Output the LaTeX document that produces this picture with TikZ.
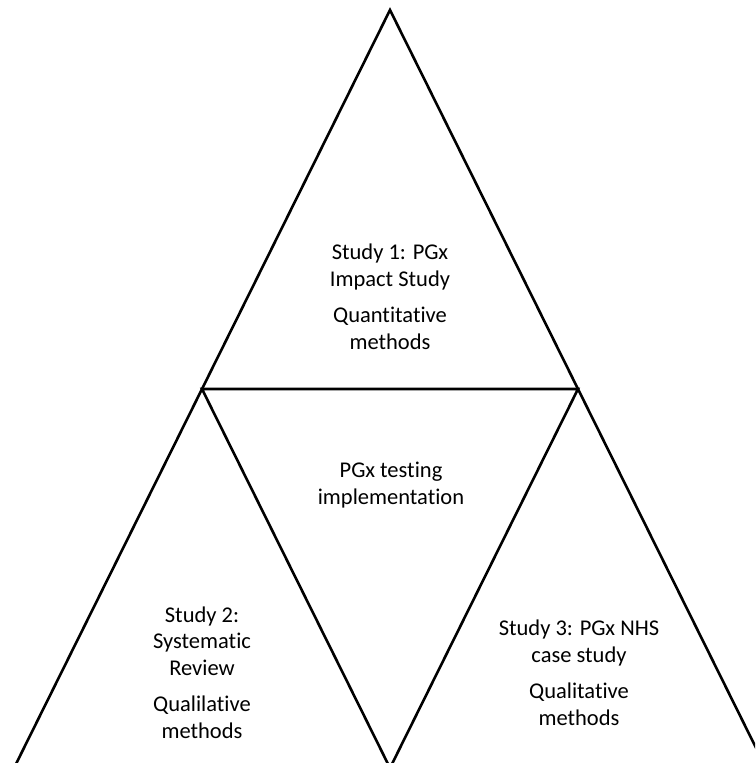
\documentclass[tikz,border=0pt]{standalone}
\usepackage{fontspec}
\setmainfont{Carlito}[Ligatures=NoCommon]
\begin{document}
\begin{tikzpicture}[x=1pt,y=-1pt,
  edge/.style={line width=2.6pt, line join=miter},
  lbl/.style={font=\fontsize{22.5}{26.5}\selectfont, align=center, inner sep=0pt, anchor=base}]
  \useasboundingbox (0,0) rectangle (755,763);
  \clip (0,0) rectangle (755,763);
  % corners of the large triangle (base lies just below the frame)
  \coordinate (apex) at (390,10);
  \coordinate (bl) at (14,768);
  \coordinate (br) at (766,768);
  % midpoints of its sides: the inner, upside-down triangle
  \coordinate (ml) at (202,389);
  \coordinate (mr) at (578,389);
  \coordinate (mb) at (390,768);
  \draw[edge] (bl) -- (apex) -- (br);
  \draw[edge] (ml) -- (mr) -- (mb) -- cycle;
  % labels (the base anchor sits on the last line)
  \node[lbl] (study1) at (390,349) {Study 1: PGx\\Impact Study\\[10pt]Quantitative\\methods};
  \node[lbl] (centre) at (391,504) {PGx testing\\implementation};
  \node[lbl] (study2) at (202,738) {Study 2:\\Systematic\\Review\\[10pt]Qualilative\\methods};
  \node[lbl] (study3) at (579,725) {Study 3: PGx NHS\\case study\\[10pt]Qualitative\\methods};
\end{tikzpicture}
\end{document}
